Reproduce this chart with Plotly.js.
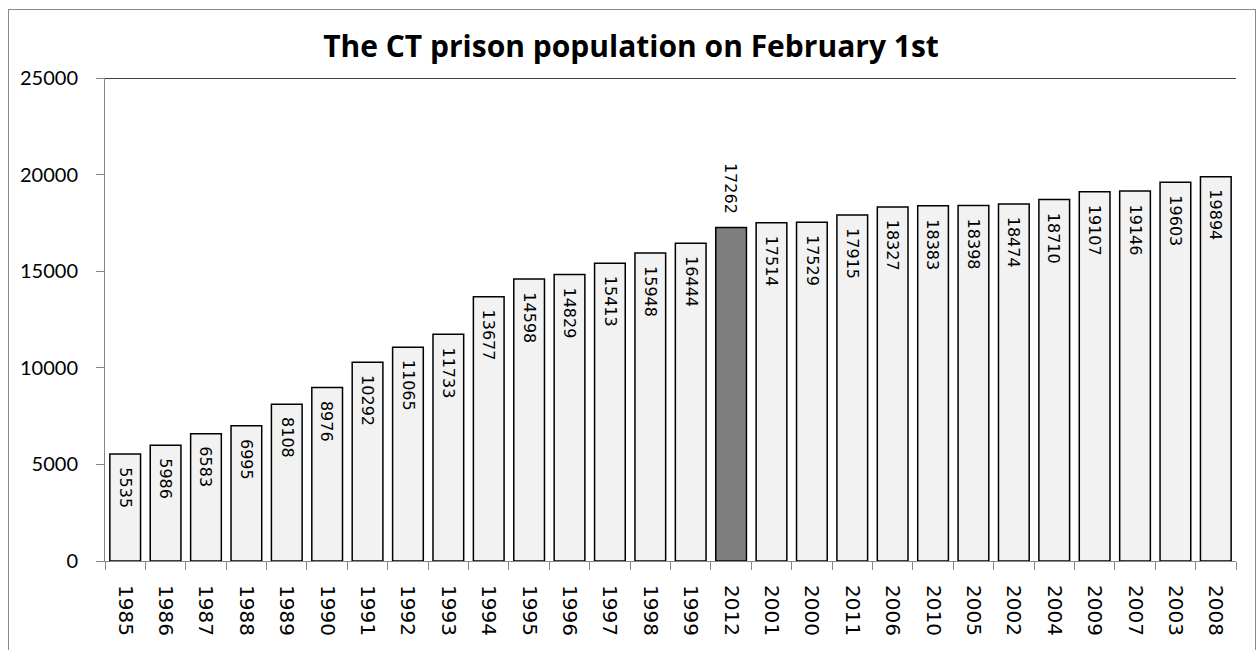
<!DOCTYPE html>
<html>
<head>
<meta charset="utf-8">
<script src="https://cdn.plot.ly/plotly-3.0.1.min.js"></script>
<style>
  html, body { margin: 0; padding: 0; background: #fff; }
  #frame { position: absolute; left: 8px; top: 9px; width: 1246px; height: 700px; border: 1px solid #8a8a8a; pointer-events: none; z-index: 5; }
  #chart { position: absolute; left: 0; top: 0; width: 1257px; height: 650px; }
</style>
</head>
<body>
<div id="chart"></div>
<div id="frame"></div>
<script>
const years = ["1985","1986","1987","1988","1989","1990","1991","1992","1993","1994","1995","1996","1997","1998","1999","2012","2001","2000","2011","2006","2010","2005","2002","2004","2009","2007","2003","2008"];
const population = [5535,5986,6583,6995,8108,8976,10292,11065,11733,13677,14598,14829,15413,15948,16444,17262,17514,17529,17915,18327,18383,18398,18474,18710,19107,19146,19603,19894];
const highlightYear = "2012";
const titleText = "The CT prison population on February 1st";
const yTicks = [0,5000,10000,15000,20000,25000];

const colors = years.map(y => y === highlightYear ? "#7f7f7f" : "#f2f2f2");

const trace = {
  type: "bar",
  x: years,
  y: population,
  marker: { color: colors, line: { color: "#000", width: 1.5 } },
  hoverinfo: "x+y"
};

// category axis: annotation x given as category index
const labels = years.map((yr, i) => {
  const outside = yr === highlightYear;
  return {
    x: i, y: population[i], xref: "x", yref: "y",
    text: String(population[i]),
    textangle: 90,
    showarrow: false,
    xanchor: "center",
    yanchor: outside ? "bottom" : "top",
    yshift: outside ? 12 : -11,
    font: { family: "DejaVu Sans", size: 16, color: "#000" }
  };
});

const layout = {
  width: 1257, height: 650,
  margin: { l: 105, r: 21, t: 78, b: 89 },
  paper_bgcolor: "#fff", plot_bgcolor: "#fff",
  bargap: 0.24,
  showlegend: false,
  title: { text: "<b>" + titleText + "</b>", font: { family: "Open Sans", size: 30, color: "#000" },
           x: 631/1257, xref: "container", xanchor: "center", y: 1 - 46/650, yref: "container", yanchor: "middle" },
  xaxis: {
    type: "category",
    categoryorder: "array",
    categoryarray: years,
    tickangle: 90,
    tickson: "boundaries",
    ticks: "outside", ticklen: 8, tickcolor: "#868686",
    showline: true, linecolor: "#868686", linewidth: 1,
    showgrid: false, zeroline: false,
    tickfont: { family: "DejaVu Sans", size: 20, color: "#000" },
    ticklabelstandoff: 19
  },
  yaxis: {
    range: [0, 25000],
    tickvals: yTicks,
    ticktext: yTicks.map(String),
    ticks: "outside", ticklen: 8, tickcolor: "#868686",
    showline: true, linecolor: "#868686", linewidth: 1,
    showgrid: false, zeroline: false,
    tickfont: { family: "Lato", size: 20, color: "#000" },
    ticklabelstandoff: 14
  },
  annotations: labels,
  shapes: [
    { type: "line", xref: "paper", yref: "y", x0: 0, x1: 1, y0: 25000, y1: 25000, line: { color: "#000", width: 1.3 } }
  ]
};

Plotly.newPlot("chart", [trace], layout, { displayModeBar: false, staticPlot: true });
</script>
</body>
</html>
